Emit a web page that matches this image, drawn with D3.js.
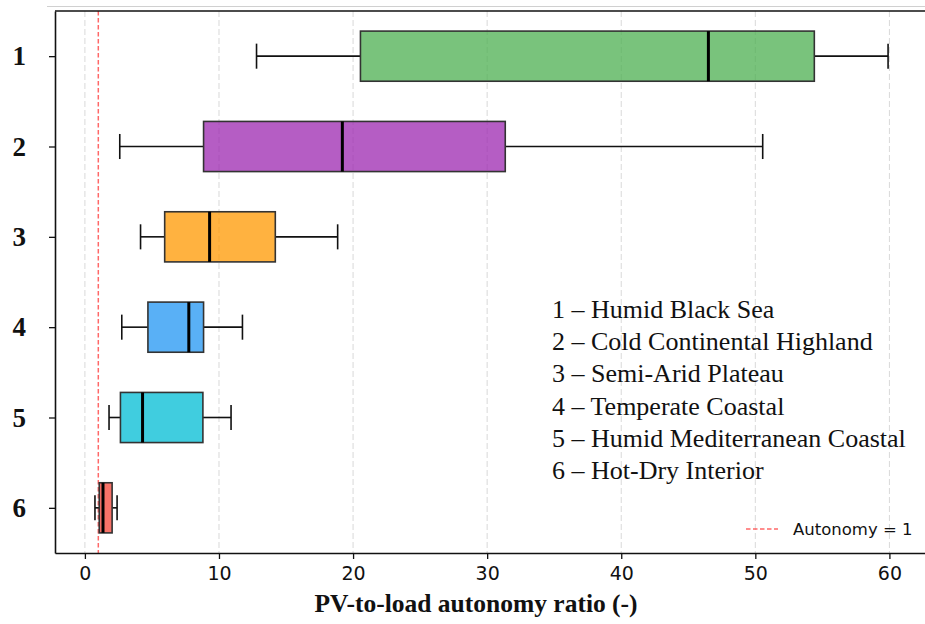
<!DOCTYPE html>
<html>
<head>
<meta charset="utf-8">
<script src="https://cdn.jsdelivr.net/npm/d3@7"></script>
<style>
  body { margin: 0; background: #fff; }
  svg { display: block; }
</style>
</head>
<body>
<div id="chart"></div>
<script>
// climate zones, top to bottom
let zones = [1, 2, 3, 4, 5, 6];
let zoneNames = ["Humid Black Sea", "Cold Continental Highland", "Semi-Arid Plateau",
                 "Temperate Coastal", "Humid Mediterranean Coastal", "Hot-Dry Interior"];
let colors = ["#4CAF50", "#9C27B0", "#FF9800", "#2196F3", "#00BCD4", "#F44336"];

// box stats
let whiskLow  = [12.8, 2.6, 4.15, 2.75, 1.8, 0.75];
let q1        = [20.55, 8.85, 5.95, 4.7, 2.65, 1.07];
let median    = [46.5, 19.2, 9.3, 7.75, 4.3, 1.35];
let q3        = [54.4, 31.35, 14.2, 8.85, 8.8, 2.03];
let whiskHigh = [59.9, 50.55, 18.85, 11.75, 10.9, 2.4];

let xTicks = [0, 10, 20, 30, 40, 50, 60];
let autonomyRef = 1;

let width = 925, height = 624;
let margin = {top: 11, right: -10, bottom: 71, left: 55};
let width_ = width - margin.left - margin.right;
let height_ = height - margin.top - margin.bottom;

let svg = d3.select("#chart").append("svg")
  .attr("width", width).attr("height", height);

// faint line above the axes (edge of the original figure)
svg.append("line")
  .attr("x1", 47).attr("x2", width).attr("y1", 6.5).attr("y2", 6.5)
  .attr("stroke", "#d0d0d0").attr("stroke-width", 1.2);

let g = svg.append("g").attr("transform", "translate(" + margin.left + "," + margin.top + ")");

let x = d3.scaleLinear().domain([-2.23, 63.4]).range([0, width_]);
let y = d3.scaleLinear().domain([0.5, 6.5]).range([0, height_]);
let boxH = y(0.5 + 0.555) - y(0.5);
let capH = boxH / 2;

// grid
g.selectAll(".grid").data(xTicks).enter().append("line")
  .attr("x1", d => x(d)).attr("x2", d => x(d))
  .attr("y1", 0).attr("y2", height_)
  .attr("stroke", "#d9d9d9").attr("stroke-width", 1)
  .attr("stroke-dasharray", "6,3");

// reference line
g.append("line")
  .attr("x1", x(autonomyRef)).attr("x2", x(autonomyRef))
  .attr("y1", 0).attr("y2", height_)
  .attr("stroke", "#ff4d4d").attr("stroke-opacity", 0.85).attr("stroke-width", 1.5)
  .attr("stroke-dasharray", "4.5,2.5");

let boxes = g.selectAll(".box").data(zones).enter().append("g");

// whiskers
boxes.append("line")
  .attr("x1", (d, i) => x(whiskLow[i])).attr("x2", (d, i) => x(q1[i]))
  .attr("y1", d => y(d)).attr("y2", d => y(d))
  .attr("stroke", "#111").attr("stroke-width", 1.6);
boxes.append("line")
  .attr("x1", (d, i) => x(q3[i])).attr("x2", (d, i) => x(whiskHigh[i]))
  .attr("y1", d => y(d)).attr("y2", d => y(d))
  .attr("stroke", "#111").attr("stroke-width", 1.6);
// caps
boxes.append("line")
  .attr("x1", (d, i) => x(whiskLow[i])).attr("x2", (d, i) => x(whiskLow[i]))
  .attr("y1", d => y(d) - capH / 2).attr("y2", d => y(d) + capH / 2)
  .attr("stroke", "#111").attr("stroke-width", 1.6);
boxes.append("line")
  .attr("x1", (d, i) => x(whiskHigh[i])).attr("x2", (d, i) => x(whiskHigh[i]))
  .attr("y1", d => y(d) - capH / 2).attr("y2", d => y(d) + capH / 2)
  .attr("stroke", "#111").attr("stroke-width", 1.6);

// box body
boxes.append("rect")
  .attr("x", (d, i) => x(q1[i]))
  .attr("width", (d, i) => x(q3[i]) - x(q1[i]))
  .attr("y", d => y(d) - boxH / 2)
  .attr("height", boxH)
  .attr("fill", (d, i) => colors[i]).attr("fill-opacity", 0.75)
  .attr("stroke", "#333").attr("stroke-width", 1.6);

// median
boxes.append("line")
  .attr("x1", (d, i) => x(median[i])).attr("x2", (d, i) => x(median[i]))
  .attr("y1", d => y(d) - boxH / 2).attr("y2", d => y(d) + boxH / 2)
  .attr("stroke", "#000").attr("stroke-width", 3);

// axes
let xAxis = g.append("g").attr("transform", "translate(0," + height_ + ")")
  .call(d3.axisBottom(x).tickValues(xTicks).tickSize(6).tickPadding(8).tickSizeOuter(0));
xAxis.select(".domain").attr("stroke", "#111").attr("stroke-width", 1.6);
xAxis.selectAll(".tick line").attr("stroke", "#111").attr("stroke-width", 1.3);
xAxis.selectAll("text").attr("font-family", "DejaVu Sans").attr("font-size", 19).attr("fill", "#111");

let yAxis = g.append("g")
  .call(d3.axisLeft(y).tickValues(zones).tickFormat(d3.format("d")).tickSize(6).tickPadding(23).tickSizeOuter(0));
yAxis.select(".domain").attr("stroke", "#111").attr("stroke-width", 1.6);
yAxis.selectAll(".tick line").attr("stroke", "#111").attr("stroke-width", 1.3);
yAxis.selectAll("text").attr("font-family", "Liberation Serif").attr("font-weight", "bold")
  .attr("font-size", 27).attr("fill", "#111");

// top spine
g.append("line").attr("x1", 0).attr("x2", width_).attr("y1", 0).attr("y2", 0)
  .attr("stroke", "#111").attr("stroke-width", 1.6);

// x label
svg.append("text")
  .attr("x", 476).attr("y", 612)
  .attr("text-anchor", "middle")
  .attr("font-family", "Liberation Serif").attr("font-weight", "bold").attr("font-size", 25.5)
  .attr("fill", "#111")
  .text("PV-to-load autonomy ratio (-)");

// zone names
svg.append("g").selectAll("text").data(zones).enter().append("text")
  .attr("x", 552)
  .attr("y", (d, i) => 318 + i * 32.2)
  .attr("font-family", "Liberation Serif").attr("font-size", 26).attr("fill", "#111")
  .text((d, i) => d + " \u2013 " + zoneNames[i]);

// reference legend
let lg = svg.append("g");
lg.append("line").attr("x1", 746).attr("x2", 778).attr("y1", 529).attr("y2", 529)
  .attr("stroke", "#ff4d4d").attr("stroke-opacity", 0.85).attr("stroke-width", 1.5)
  .attr("stroke-dasharray", "4.5,2.5");
lg.append("text").attr("x", 793).attr("y", 535)
  .attr("font-family", "DejaVu Sans").attr("font-size", 16.5).attr("fill", "#111")
  .text("Autonomy = " + autonomyRef);
</script>
</body>
</html>
